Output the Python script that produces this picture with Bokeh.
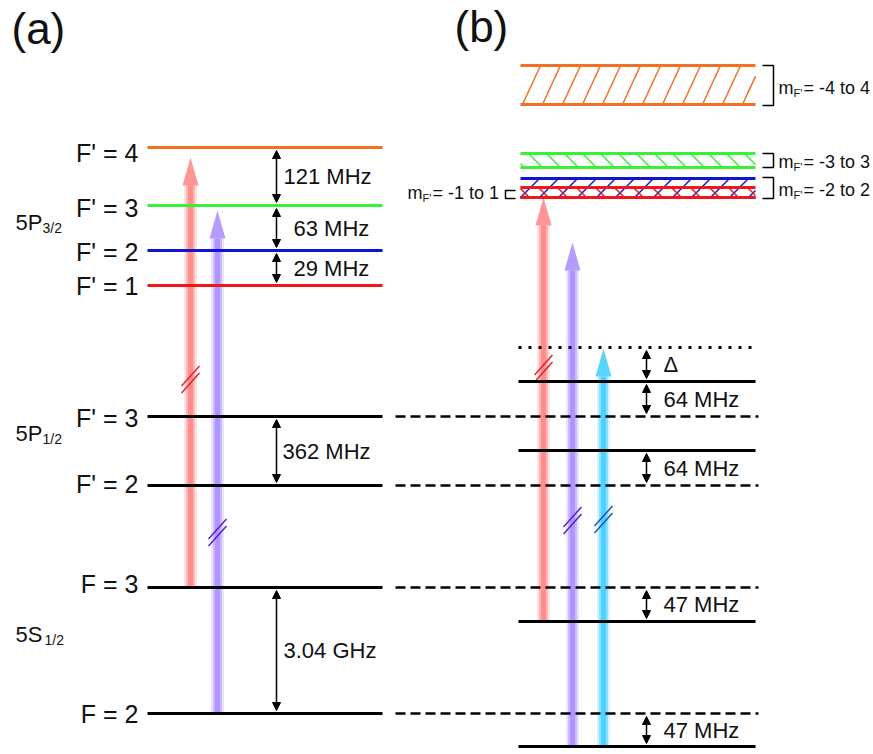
import numpy as np
from bokeh.plotting import figure
from bokeh.models import Range1d, Arrow, NormalHead, ColumnDataSource
from bokeh.embed import file_html
from bokeh.resources import INLINE
from bokeh.core.properties import value

FONT = "Liberation Sans"

# ---------------- data ----------------
# Panel (a): 5P3/2 hyperfine levels
p32_names = ["F' = 4", "F' = 3", "F' = 2", "F' = 1"]
p32_y = [147, 205, 250, 285]
p32_colors = ["#f37021", "#38f038", "#1212d2", "#ee1818"]
p32_label_y = [152, 207, 251, 285]

# Panel (a): 5P1/2 and 5S1/2 levels
low_names = ["F' = 3", "F' = 2", "F = 3", "F = 2"]
low_y = [416, 485, 587, 713]
low_label_y = [417, 483, 583, 713]

# term labels
term_main = ["5P", "5P", "5S"]
term_sub = ["3/2", "1/2", "1/2"]
term_y = [222, 433, 634]
term_sub_x = [42, 42, 44]

# splittings, panel (a)
gap_a_top = [147, 205, 250, 416, 587]
gap_a_bot = [205, 250, 285, 485, 713]
gap_a_text = ["121 MHz", "63 MHz", "29 MHz", "362 MHz", "3.04 GHz"]
gap_a_text_x = [283, 293, 293, 282, 283]

# panel (b) levels
b_solid_y = [381, 450, 621, 746]
b_dash_y = [416, 485, 587, 713]
b_dot_y = [347]
gap_b_top = [347, 381, 450, 587, 713]
gap_b_bot = [381, 416, 485, 621, 746]
gap_b_text = ["\u0394", "64 MHz", "64 MHz", "47 MHz", "47 MHz"]

# Zeeman manifolds, panel (b)
band_top = [65, 153, 178, 187]
band_bot = [104, 167, 197, 197]
band_colors = ["#f37021", "#38f038", "#1212d2", "#ee1818"]
band_dir = [1, -1, 1, -1]
band_pitch = [20, 18, 19, 19]
band_run = [18, 14, 19, 10]
mf_text = ["= -4 to 4", "= -3 to 3", "= -2 to 2"]
bracket_top = [65, 153, 177]
bracket_bot = [105, 167, 198]
mf_y = [87, 161, 189]

# laser beams
beam_x = [190, 217, 543, 572, 603]
beam_bottom = [587, 713, 620, 746, 746]
beam_tip = [157, 210, 197, 242, 348]
beam_colors = ["#ff8a8a", "#ad90ff", "#ff8a8a", "#ad90ff", "#45d0ff"]
break_y = [379, 532, 368, 520, 519]
break_colors = ["#e8202a", "#5020d8", "#e8202a", "#5020d8", "#2050c8"]

# ---------------- figure ----------------
p = figure(width=873, height=754, x_range=Range1d(0, 873), y_range=Range1d(754, 0),
           output_backend="svg", toolbar_location=None, min_border=0,
           x_axis_type=None, y_axis_type=None, outline_line_color=None)
p.xgrid.visible = False
p.ygrid.visible = False

HEAD_L, HEAD_W = 28, 16

# beams (soft edges)
for x, yb, yt, c in zip(beam_x, beam_bottom, beam_tip, beam_colors):
    base = yt + HEAD_L
    for w, a in [(13, 0.25), (9, 0.5), (5, 0.9)]:
        p.segment(x0=x, y0=yb, x1=x, y1=base, line_color=c, line_width=w, line_alpha=a)
    p.patch(x=[x - HEAD_W / 2, x + HEAD_W / 2, x], y=[base, base, yt],
            fill_color=c, fill_alpha=0.9, line_color=None)

# break marks
for x, y, c in zip(beam_x, break_y, break_colors):
    for d in (-3.5, 3.5):
        p.segment(x0=x - 9, y0=y + 10 + d, x1=x + 9, y1=y - 10 + d, line_color=c, line_width=1.5)

# panel (a) levels
p.segment(x0=147, x1=382, y0=p32_y, y1=p32_y, line_color=p32_colors, line_width=3)
p.segment(x0=147, x1=382, y0=low_y, y1=low_y, line_color="black", line_width=3)

# dashed continuation
p.segment(x0=395, x1=758, y0=b_dash_y, y1=b_dash_y, line_color="black", line_width=2.5,
          line_dash="10 5")
# panel (b) solid & dotted
p.segment(x0=518, x1=755, y0=b_solid_y, y1=b_solid_y, line_color="black", line_width=3)
p.segment(x0=518, x1=755, y0=b_dot_y, y1=b_dot_y, line_color="black", line_width=3,
          line_dash="3 7")

# Zeeman bands with hatch
BX0, BX1 = 520, 755


def hatch(x0, x1, yt, yb, pitch, run, direction):
    X0, Y0, X1, Y1 = [], [], [], []
    h = yb - yt
    for xb in np.arange(x0 - run, x1 + run, pitch):
        if direction > 0:
            tmin, tmax = (x0 - xb) / run, (x1 - xb) / run
        else:
            tmin, tmax = (xb - x1) / run, (xb - x0) / run
        tmin, tmax = max(tmin, 0), min(tmax, 1)
        if tmax - tmin < 0.02:
            continue
        X0.append(xb + direction * run * tmin); Y0.append(yb - h * tmin)
        X1.append(xb + direction * run * tmax); Y1.append(yb - h * tmax)
    return X0, Y0, X1, Y1


for yt, yb, c, d, pt, rn in zip(band_top, band_bot, band_colors, band_dir, band_pitch, band_run):
    X0, Y0, X1, Y1 = hatch(BX0, BX1, yt, yb, pt, rn, d)
    p.segment(x0=X0, y0=Y0, x1=X1, y1=Y1, line_color=c, line_width=1.5)
for yt, yb, c in zip(band_top, band_bot, band_colors):
    p.segment(x0=[BX0, BX0], x1=[BX1, BX1], y0=[yt, yb], y1=[yt, yb], line_color=c, line_width=3)

# brackets
for yt, yb in zip(bracket_top, bracket_bot):
    p.line(x=[762, 773, 773, 762], y=[yt, yt, yb, yb], line_color="black", line_width=1.5)
p.line(x=[515, 505, 505, 515], y=[190, 190, 198, 198], line_color="black", line_width=1.5)


# double arrows
def darrows(x, tops, bots):
    src = ColumnDataSource(dict(x=[x] * len(tops), y0=[t + 3 for t in tops], y1=[b - 3 for b in bots]))
    p.add_layout(Arrow(source=src, x_start="x", y_start="y0", x_end="x", y_end="y1",
                       line_width=1.5, line_color="black",
                       start=NormalHead(size=8, fill_color="black", line_color="black"),
                       end=NormalHead(size=8, fill_color="black", line_color="black")))


darrows(276, gap_a_top, gap_a_bot)
darrows(646, gap_b_top, gap_b_bot)


# ---------------- texts ----------------
def txt(x, y, t, size, align="left", baseline="middle"):
    p.text(x=x, y=y, text=t, text_font=value(FONT), text_font_size=size, text_color="#111111",
           text_align=align, text_baseline=baseline)


txt([11], [28], ["(a)"], "44px")
txt([454], [26], ["(b)"], "44px")

txt([138] * 4, p32_label_y, p32_names, "25px", align="right", baseline="alphabetic")
txt([138] * 4, low_label_y, low_names, "25px", align="right", baseline="alphabetic")

txt([15] * 3, term_y, term_main, "22px")
txt(term_sub_x, [t + 5 for t in term_y], term_sub, "14px")

gap_a_y = [(a + b) / 2 for a, b in zip(gap_a_top, gap_a_bot)]
txt(gap_a_text_x, gap_a_y, gap_a_text, "22px")

gap_b_y = [(a + b) / 2 for a, b in zip(gap_b_top, gap_b_bot)]
txt([663] * 5, gap_b_y, gap_b_text, "22px")

# m_F' labels
txt([778] * 3, mf_y, ["m"] * 3, "18px")
txt([793] * 3, [y + 5 for y in mf_y], ["F'"] * 3, "11px")
txt([803] * 3, mf_y, mf_text, "18px")
txt([407], [192], ["m"], "18px")
txt([422], [197], ["F'"], "11px")
txt([432], [192], ["= -1 to 1"], "18px")

open("out.html", "w").write(file_html(p, INLINE))
